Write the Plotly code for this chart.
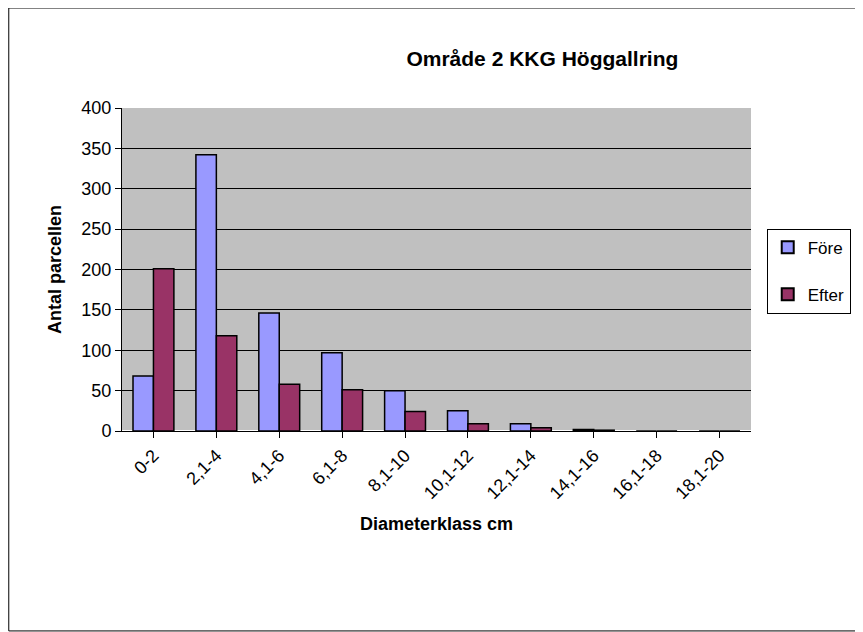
import plotly.graph_objects as go

klasser = ["0-2", "2,1-4", "4,1-6", "6,1-8", "8,1-10", "10,1-12",
           "12,1-14", "14,1-16", "16,1-18", "18,1-20"]
fore = [68, 342, 146, 97, 50, 25, 9, 2, 0, 0]
efter = [201, 118, 58, 51, 24, 9, 4, 1, 0, 0]

fig = go.Figure()
fig.add_bar(x=klasser, y=fore, name="Före", legendgroup="a",
            marker=dict(color="#9999FF", line=dict(color="black", width=1.5)))
fig.add_bar(x=klasser, y=efter, name="Efter", legendgroup="b",
            marker=dict(color="#993366", line=dict(color="black", width=1.5)))

fig.update_layout(
    width=855, height=624,
    paper_bgcolor="white", plot_bgcolor="#C0C0C0",
    font=dict(family="Liberation Sans, Arial", size=17, color="black"),
    margin=dict(l=114, r=108, t=100, b=201),
    bargap=0.35, bargroupgap=0,
    title=dict(text="<b>Område 2 KKG Höggallring</b>", x=0.625, xanchor="center",
               y=0.93, font=dict(size=21)),
    legend=dict(x=1.025, y=0.495, xanchor="left", yanchor="middle",
                bordercolor="black", borderwidth=1, bgcolor="white",
                font=dict(size=17), itemsizing="constant", tracegroupgap=22),
    shapes=[dict(type="rect", xref="paper", yref="paper", x0=-0.18, x1=1.1675,
                 y0=-0.619, y1=1.3096, line=dict(color="black", width=1))],
)
fig.update_xaxes(tickangle=-45, showline=True, linecolor="black",
                 ticks="outside", tickcolor="black", ticklen=6,
                 tickfont=dict(size=18),
                 title=dict(text="<b>Diameterklass cm</b>", font=dict(size=18)))
fig.update_yaxes(range=[0, 400], dtick=50, showgrid=True, gridcolor="black",
                 gridwidth=1, showline=True, linecolor="black", ticks="outside",
                 tickcolor="black", ticklen=6, tickfont=dict(size=18),
                 title=dict(text="<b>Antal parcellen</b>", font=dict(size=18)))

fig.write_html("out.html")
